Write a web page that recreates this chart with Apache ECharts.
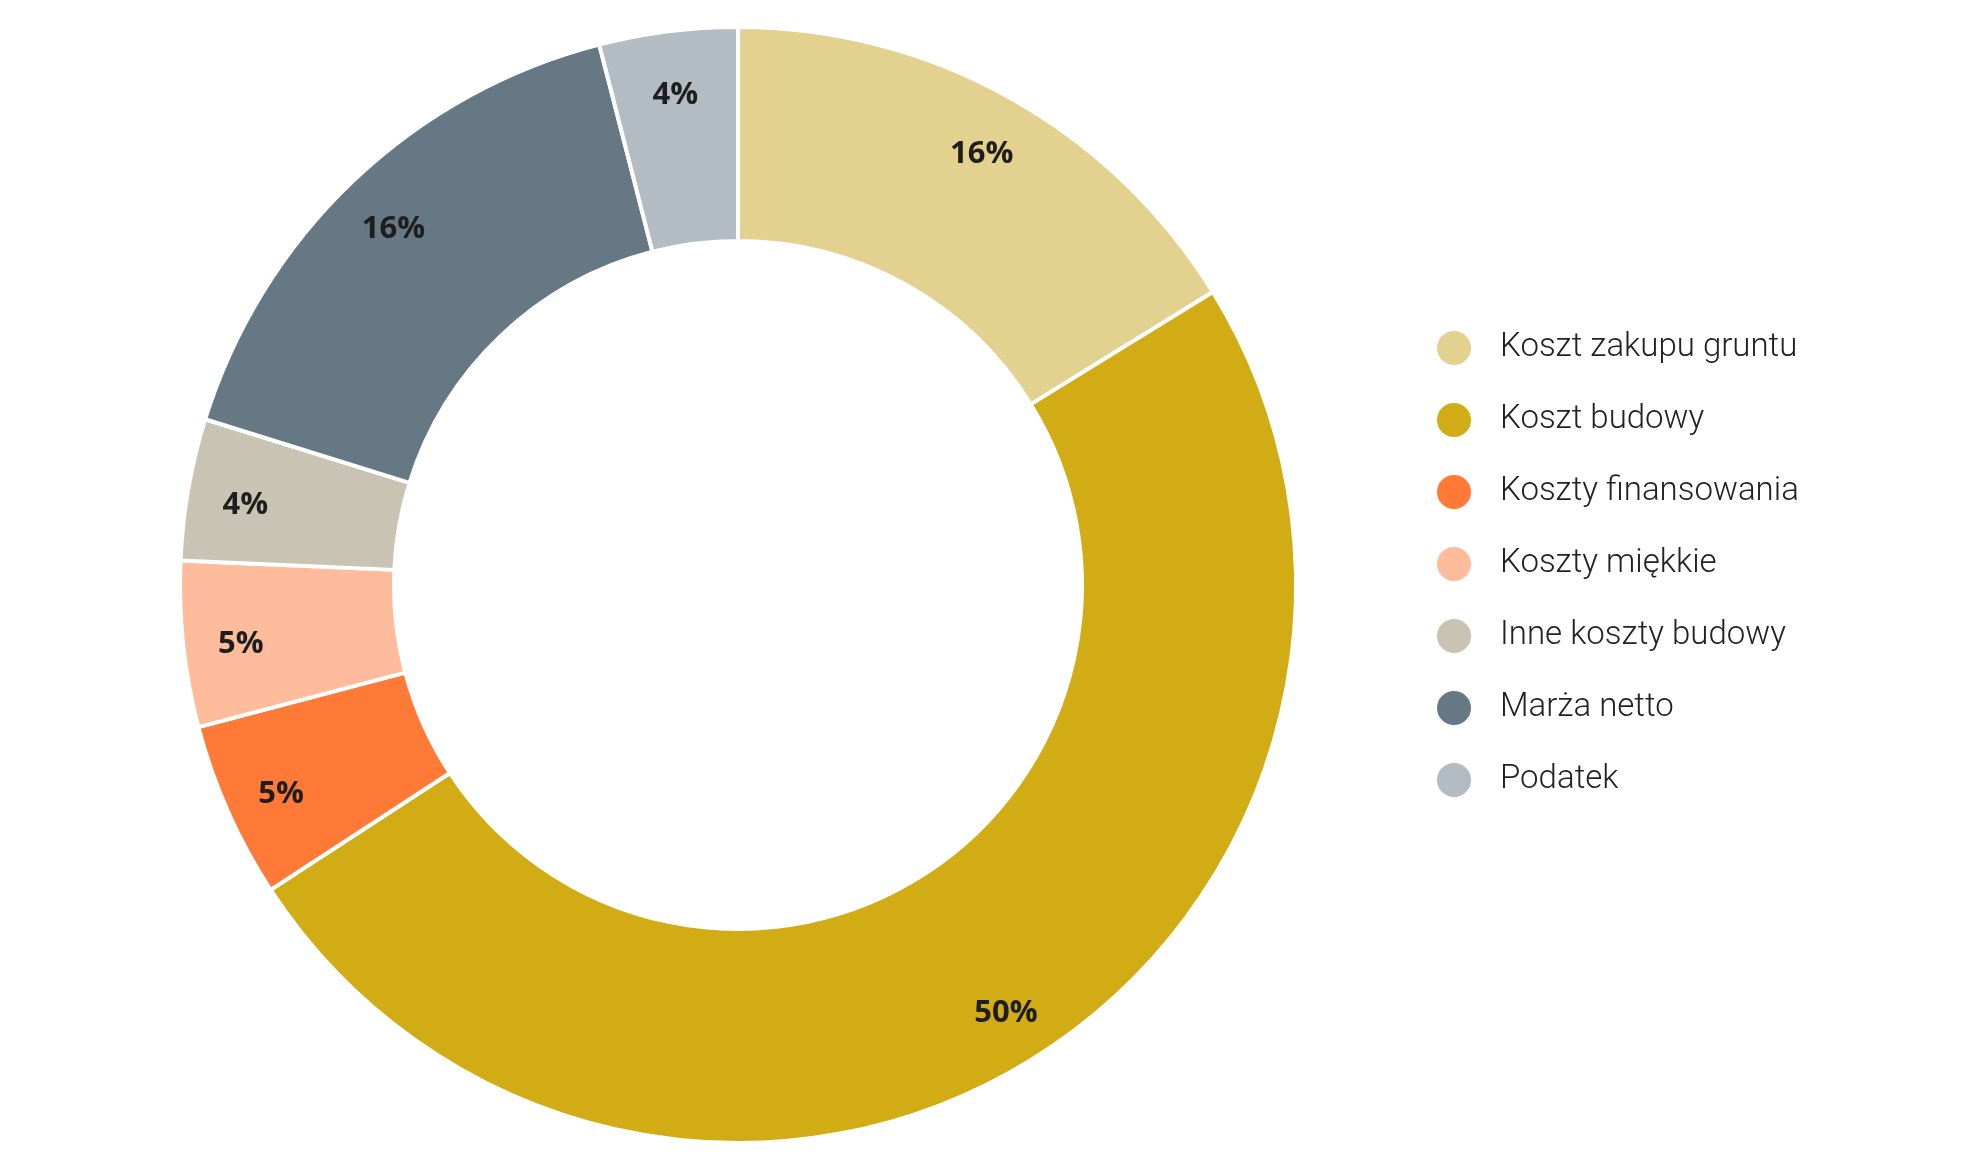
<!DOCTYPE html>
<html>
<head>
<meta charset="utf-8">
<script src="https://cdn.jsdelivr.net/npm/echarts@6/dist/echarts.min.js"></script>
<style>
  html, body { margin: 0; padding: 0; background: #fff; }
  #chart { width: 1968px; height: 1160px; }
</style>
</head>
<body>
<div id="chart"></div>
<script>
// kategorie i udziały
var names = ['Koszt zakupu gruntu', 'Koszt budowy', 'Koszty finansowania', 'Koszty miękkie', 'Inne koszty budowy', 'Marża netto', 'Podatek'];
var values = [16.2, 49.6, 5.1, 4.8, 4.1, 16.2, 4.0];
var colors = ['#E3D18F', '#D1AC14', '#FE7A36', '#FEBC9C', '#C9C3B4', '#667883', '#B2BCC2'];

var chart = echarts.init(document.getElementById('chart'));

var pieData = names.map(function (n, i) {
    return { name: n, value: values[i] };
});

var option = {
    animation: false,
    color: colors,
    legend: {
        orient: 'vertical',
        left: 1430,
        top: 324,
        icon: 'circle',
        itemWidth: 36,
        itemHeight: 36,
        itemGap: 34,
        data: names,
        textStyle: {
            fontFamily: 'Roboto',
            fontWeight: 300,
            fontSize: 33,
            lineHeight: 36,
            color: '#222',
            padding: [0, 0, 0, 23]
        }
    },
    series: [
        {
            name: 'koszty',
            type: 'pie',
            center: [738, 585],
            radius: [344, 558],
            startAngle: 90,
            clockwise: true,
            avoidLabelOverlap: false,
            label: { show: false },
            labelLine: { show: false },
            itemStyle: { borderColor: '#fff', borderWidth: 4 },
            emphasis: { disabled: true },
            data: pieData
        },
        {
            // warstwa tylko na etykiety, bliżej zewnętrznej krawędzi
            name: 'etykiety',
            type: 'pie',
            center: [738, 591],
            radius: [437, 557],
            startAngle: 90,
            clockwise: true,
            silent: true,
            avoidLabelOverlap: false,
            itemStyle: { color: 'rgba(0,0,0,0)', borderWidth: 0 },
            label: {
                show: true,
                position: 'inside',
                formatter: function (p) { return Math.round(p.value) + '%'; },
                fontFamily: 'Open Sans',
                fontWeight: 'bold',
                fontSize: 31,
                color: '#1e1e1e'
            },
            labelLine: { show: false },
            emphasis: { disabled: true },
            data: pieData
        }
    ]
};

chart.setOption(option);
</script>
</body>
</html>
